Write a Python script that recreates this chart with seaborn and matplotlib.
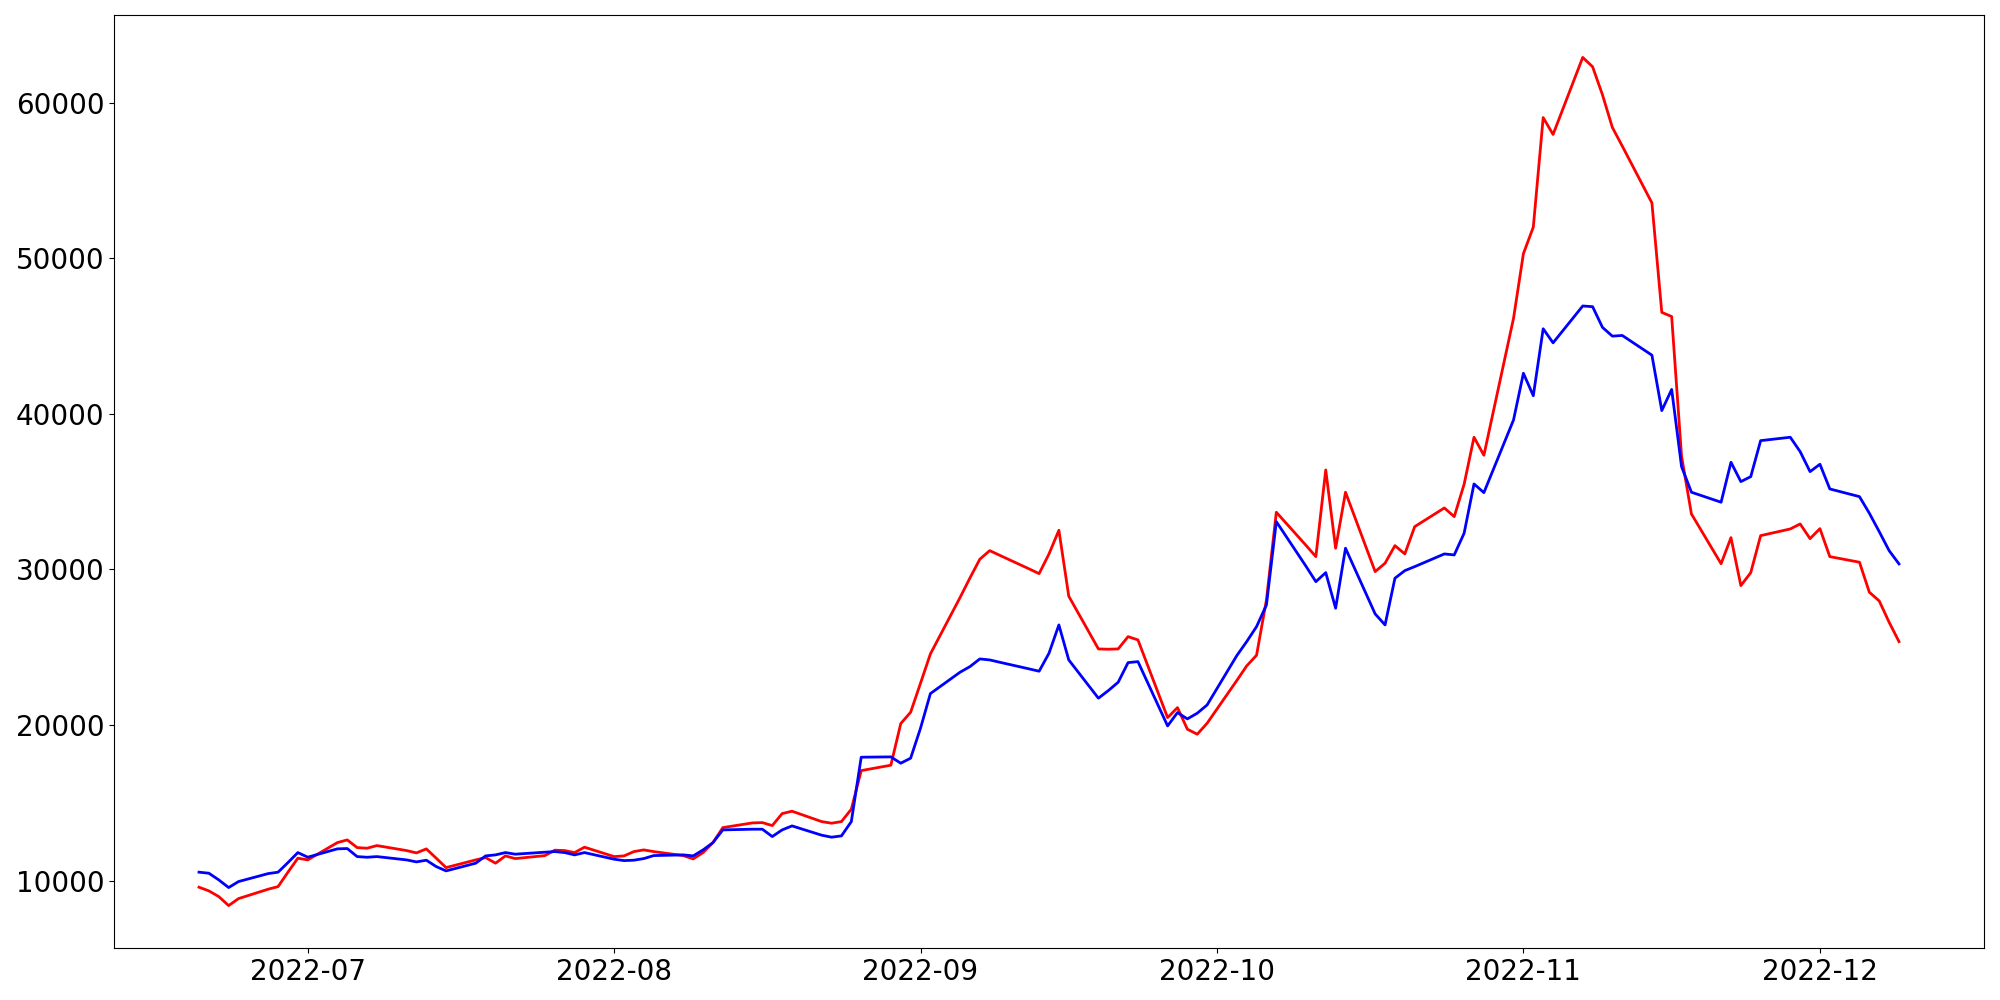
import pandas as pd
import matplotlib
matplotlib.use("Agg")
import matplotlib.pyplot as plt
import seaborn as sns

# trading days, 2022-06-20 .. 2022-12-09
dates = pd.bdate_range("2022-06-20", "2022-12-09")

# red series, week by week
red = [
    9575, 9338, 8972, 8393, 8843,
    9447, 9614, 10540, 11440, 11330,
    12442, 12615, 12120, 12080, 12250,
    11930, 11780, 12037, 11440, 10835,
    11330, 11480, 11118, 11587, 11414,
    11607, 11954, 11930, 11800, 12147,
    11543, 11587, 11864, 11973, 11864,
    11607, 11395, 11800, 12442, 13406,
    13708, 13728, 13535, 14306, 14460,
    13792, 13689, 13792, 14589, 17070,
    17417, 20090, 20823, 22687, 24570,
    28195, 29450, 30657, 31210, 30913,
    30033, 29731, 30997, 32520, 28280,
    24891, 24872, 24891, 25682, 25469,
    20476, 21119, 19730, 19409, 20116,
    22860, 23798, 24486, 28041, 33677,
    31550, 30824, 36395, 31363, 34963,
    29860, 30400, 31530, 30997, 32751,
    33953, 33395, 35477, 38497, 37340,
    46146, 50300, 52006, 59044, 57960,
    62913, 62310, 60506, 58410, 57215,
    53562, 46525, 46255, 37283, 33567,
    30367, 32045, 28960, 29795, 32173,
    32603, 32924, 31980, 32622, 30824,
    30464, 28536, 27976, 26607, 25361,
]

# blue series, week by week
blue = [
    10540, 10474, 10045, 9552, 9938,
    10450, 10540, 11157, 11800, 11504,
    12040, 12060, 11543, 11500, 11543,
    11330, 11202, 11310, 10900, 10623,
    11118, 11587, 11652, 11800, 11697,
    11825, 11864, 11800, 11652, 11800,
    11375, 11285, 11311, 11414, 11607,
    11652, 11587, 11973, 12442, 13258,
    13303, 13303, 12830, 13258, 13515,
    12918, 12790, 12873, 13792, 17931,
    17952, 17545, 17867, 19795, 22020,
    23394, 23754, 24248, 24184, 24037,
    23606, 23458, 24615, 26434, 24184,
    21723, 22212, 22750, 24011, 24075,
    19943, 20798, 20392, 20759, 21292,
    24460, 25360, 26325, 27720, 33073,
    30206, 29216, 29795, 27508, 31363,
    27141, 26434, 29435, 29924, 30181,
    30997, 30933, 32327, 35496, 34937,
    39610, 42610, 41165, 45471, 44566,
    46935, 46890, 45560, 44996, 45041,
    43774, 40213, 41570, 36608, 34963,
    34321, 36891, 35645, 35966, 38280,
    38497, 37572, 36287, 36762, 35175,
    34680, 33613, 32430, 31210, 30355,
]

df = pd.DataFrame({"date": dates, "red": red, "blue": blue})

fig, ax = plt.subplots(figsize=(20, 10), dpi=100)

# plot both lines
sns.lineplot(x="date", y="red", data=df, color="red", linewidth=2, ax=ax)
sns.lineplot(x="date", y="blue", data=df, color="blue", linewidth=2, ax=ax)

ax.set_xlabel("")
ax.set_ylabel("")
ax.tick_params(labelsize=20)

plt.subplots_adjust(left=0.057, right=0.992, top=0.985, bottom=0.052)

# saves the image
plt.savefig("out.png")
